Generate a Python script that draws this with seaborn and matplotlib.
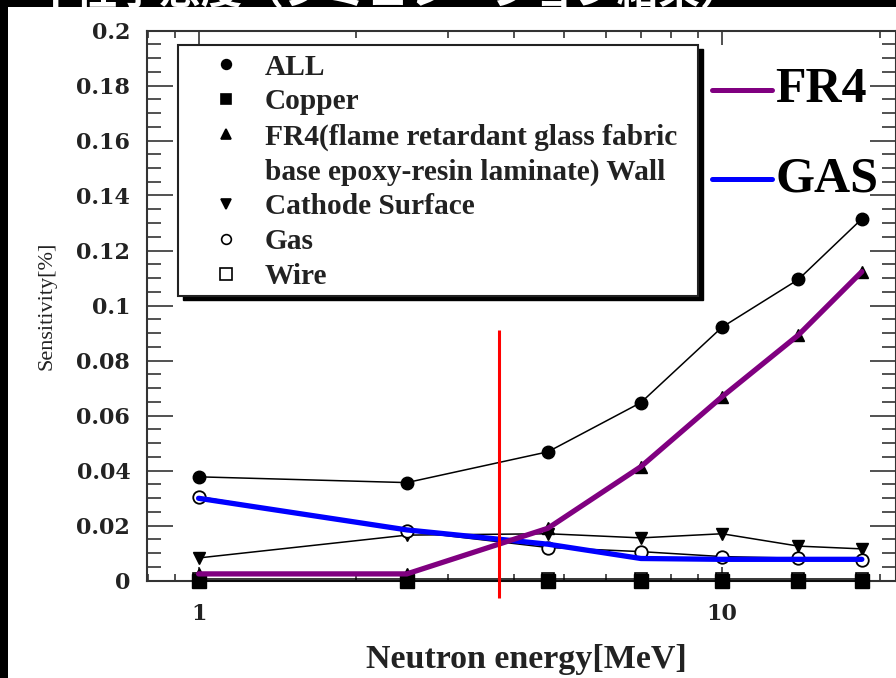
import matplotlib
matplotlib.use("Agg")
import matplotlib.pyplot as plt
import seaborn as sns
import pandas as pd
from matplotlib.lines import Line2D
from matplotlib.patches import Rectangle
from matplotlib.ticker import FixedLocator, NullFormatter, FuncFormatter, LogLocator

# Neutron energy [MeV] of each simulated point
energy = [1, 2.5, 4.65, 7, 10, 14, 18.5]

# Sensitivity [%] per detector component
sens_all = [0.0377, 0.0356, 0.0468, 0.0647, 0.0921, 0.1095, 0.1315]
sens_copper = [0.0, 0.0, 0.0, 0.0, 0.0, 0.0, 0.0]
sens_fr4 = [0.0024, 0.0024, 0.019, 0.0414, 0.0668, 0.0893, 0.1123]
sens_cathode = [0.0082, 0.0165, 0.017, 0.0155, 0.017, 0.0125, 0.0115]
sens_gas = [0.0305, 0.018, 0.012, 0.0105, 0.0087, 0.0081, 0.0075]
sens_wire = [0.0005, 0.0005, 0.0005, 0.0005, 0.0005, 0.0005, 0.0005]

# Highlighted gas trend and threshold energy
gas_trend = [0.0299, 0.0184, 0.0132, 0.008, 0.0077, 0.0077, 0.0077]
threshold_energy = 3.75
threshold_span = [-0.0064, 0.091]

series_labels = ["ALL", "Copper", "FR4(flame retardant glass fabric",
                 "base epoxy-resin laminate) Wall", "Cathode Surface", "Gas", "Wire"]
y_ticks = [0, 0.02, 0.04, 0.06, 0.08, 0.1, 0.12, 0.14, 0.16, 0.18, 0.2]
title_text = "中性子感度（シミュレーション結果）"

sns.set_style("ticks")
plt.rcParams["font.family"] = ["Liberation Serif", "DejaVu Serif"]

fig = plt.figure(figsize=(8.96, 6.78), dpi=100)
ax = fig.add_axes([147 / 896, 97.5 / 678, 749 / 896, 550 / 678])

df = pd.DataFrame({
    "energy": energy * 6,
    "sens": sens_all + sens_copper + sens_fr4 + sens_cathode + sens_gas + sens_wire,
    "part": (["ALL"] * 7 + ["Copper"] * 7 + ["FR4"] * 7 + ["Cathode"] * 7
             + ["Gas"] * 7 + ["Wire"] * 7),
})

styles = {
    "Wire": dict(marker="s", ms=9, mfc="white", mec="black", mew=1.2, z=2),
    "Copper": dict(marker="s", ms=10.5, mfc="black", mec="black", mew=1, z=3),
    "ALL": dict(marker="o", ms=9, mfc="black", mec="black", mew=1, z=3),
    "FR4": dict(marker="^", ms=8, mfc="black", mec="black", mew=1, z=3),
    "Cathode": dict(marker="v", ms=8, mfc="black", mec="black", mew=1, z=3),
    "Gas": dict(marker="o", ms=9, mfc="white", mec="black", mew=1.3, z=3),
}
for part, st in styles.items():
    sub = df[df["part"] == part]
    sns.lineplot(data=sub, x="energy", y="sens", ax=ax, color="black", lw=1.1,
                 marker=st["marker"], markersize=st["ms"], markerfacecolor=st["mfc"],
                 markeredgecolor=st["mec"], markeredgewidth=st["mew"],
                 zorder=st["z"], estimator=None, legend=False, clip_on=False)

# Coloured highlight lines
sns.lineplot(x=energy, y=gas_trend, ax=ax, color="#0000ff", lw=3.8, zorder=6,
             estimator=None, legend=False)
sns.lineplot(x=energy, y=sens_fr4, ax=ax, color="#800080", lw=3.8, zorder=7,
             estimator=None, legend=False)
ax.vlines(threshold_energy, threshold_span[0], threshold_span[1], color="#ff0000",
          lw=2.2, zorder=8, clip_on=False)

ax.set_xscale("log")
ax.set_xlim(0.797, 21.5)
ax.set_ylim(0, 0.2)
ax.xaxis.set_major_locator(FixedLocator([1, 10]))
ax.xaxis.set_major_formatter(FuncFormatter(lambda v, p: f"{v:g}"))
ax.xaxis.set_minor_locator(LogLocator(base=10, subs=range(2, 10), numticks=20))
ax.xaxis.set_minor_formatter(NullFormatter())
ax.yaxis.set_major_locator(FixedLocator(y_ticks))
ax.yaxis.set_major_formatter(FuncFormatter(lambda v, p: f"{round(v, 3):g}"))
ax.yaxis.set_minor_locator(FixedLocator([i * 0.005 for i in range(41)]))

ax.tick_params(axis="both", which="both", direction="in", top=True, right=True,
               colors="#222222", width=1.1)
ax.tick_params(axis="x", which="major", length=10, pad=16)
ax.tick_params(axis="x", which="minor", length=5)
ax.tick_params(axis="y", which="major", length=19, pad=12)
ax.tick_params(axis="y", which="minor", length=10)
for lab in ax.get_xticklabels() + ax.get_yticklabels():
    lab.set_fontfamily("DejaVu Serif")
    lab.set_fontweight("bold")
    lab.set_fontsize(16)
    lab.set_color("#222222")
for sp in ax.spines.values():
    sp.set_linewidth(1.5)
    sp.set_color("#333333")

ax.set_xlabel("Neutron energy[MeV]", fontsize=24.5, fontweight="bold", color="#222222",
              labelpad=14)
ax.xaxis.label.set_x(0.507)
ax.set_ylabel("Sensitivity[%]", fontsize=16, color="#222222", labelpad=14)

# Legend box with drop shadow
box_x0, box_y0, box_w, box_h = 0.0414, 0.5173, 0.6942, 0.4563
ax.add_patch(Rectangle((box_x0 + 0.0067, box_y0 - 0.0073), box_w, box_h,
                       transform=ax.transAxes, facecolor="black", edgecolor="black",
                       zorder=9, clip_on=False))
ax.add_patch(Rectangle((box_x0, box_y0), box_w, box_h, transform=ax.transAxes,
                       facecolor="white", edgecolor="#222222", lw=1.5, zorder=9.5,
                       clip_on=False))

def handle(marker, filled=True, ms=7):
    return Line2D([], [], linestyle="none", marker=marker, markersize=ms,
                  markerfacecolor="black" if filled else "white",
                  markeredgecolor="black", markeredgewidth=1.2)

handles = [handle("o"), handle("s"), handle("^"),
           Line2D([], [], linestyle="none"), handle("v"),
           handle("o", False, 7), handle("s", False, 8)]
leg = ax.legend(handles, series_labels, loc="upper left",
                bbox_to_anchor=(0.0854, 0.958), frameon=False, borderpad=0,
                borderaxespad=0, handlelength=1.0, handletextpad=0.82,
                labelspacing=0.265, prop=dict(family="Liberation Serif",
                                               weight="bold", size=21.2))
leg.set_zorder(10)
for t in leg.get_texts():
    t.set_color("#222222")

# Colour key for the highlight lines
for yk, col, name in [(0.8918, "#800080", "FR4"), (0.73, "#0000ff", "GAS")]:
    ax.plot([0.7543, 0.8344], [yk, yk], transform=ax.transAxes, color=col, lw=3.6,
            clip_on=False, zorder=10)
    ax.text(0.8385, yk, name, transform=ax.transAxes, fontsize=36, fontweight="bold",
            family="Liberation Serif", va="center", ha="left", color="black",
            zorder=10)

# Dark frame strips with the heading
fig.add_artist(Rectangle((0, 0), 8 / 896, 1, transform=fig.transFigure,
                         facecolor="black", edgecolor="none", zorder=20))
fig.add_artist(Rectangle((0, 1 - 7 / 678), 1, 7 / 678, transform=fig.transFigure,
                         facecolor="black", edgecolor="none", zorder=20))
fig.text(34 / 896, 1 - 3.5 / 678, title_text, color="white", fontsize=30,
         fontweight="bold", family=["Noto Sans CJK JP", "DejaVu Sans"],
         ha="left", va="baseline", zorder=21)

fig.savefig("out.png", dpi=100)
